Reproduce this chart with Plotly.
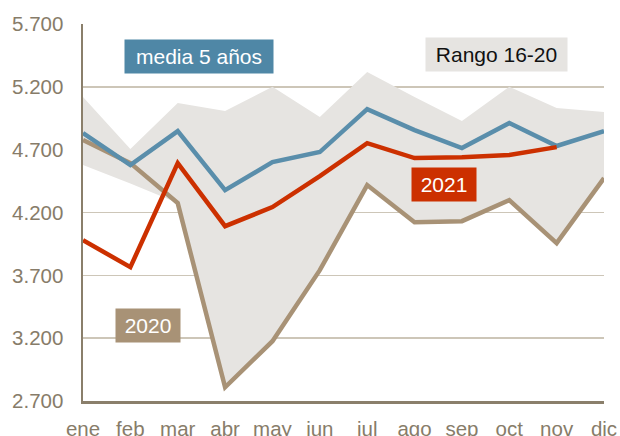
import plotly.graph_objects as go

months = ["ene", "feb", "mar", "abr", "may", "jun", "jul", "ago", "sep", "oct", "nov", "dic"]
media5 = [4832, 4577, 4848, 4378, 4601, 4681, 5023, 4856, 4713, 4912, 4729, 4848]
y2021 = [3980, 3765, 4593, 4091, 4243, 4490, 4752, 4633, 4640, 4657, 4720]
y2020 = [4776, 4593, 4275, 2809, 3176, 3741, 4418, 4123, 4131, 4298, 3956, 4474]
rango_max = [5119, 4705, 5071, 5007, 5200, 4960, 5318, 5119, 4928, 5200, 5031, 5000]
rango_min = [4577, 4430, 4275, 2809, 3176, 3741, 4418, 4123, 4131, 4298, 3956, 4474]
y_ticks = [2700, 3200, 3700, 4200, 4700, 5200, 5700]

idx = list(range(len(months)))

BLUE = "#5a8eab"
RED = "#cc3000"
BROWN = "#a89276"
BAND = "#e6e4e1"
GRID = "#cdc6b8"
AXIS = "#8a7f6b"
TICK = "#877c69"
FONT = "Liberation Sans, Arial, sans-serif"
FS = 20.5

fig = go.Figure()
fig.add_trace(go.Scatter(
    x=idx + idx[::-1], y=rango_max + rango_min[::-1],
    fill="toself", fillcolor=BAND, line=dict(width=0), mode="lines",
    hoverinfo="skip", showlegend=False))
fig.add_trace(go.Scatter(x=idx, y=y2020, mode="lines",
                         line=dict(color=BROWN, width=4.5), showlegend=False))
fig.add_trace(go.Scatter(x=idx, y=media5, mode="lines",
                         line=dict(color=BLUE, width=4.5), showlegend=False))
fig.add_trace(go.Scatter(x=idx[:len(y2021)], y=y2021, mode="lines",
                         line=dict(color=RED, width=4.5), showlegend=False))

def label(text, x, y, w, bg, color):
    fig.add_annotation(x=x, y=y, xref="x", yref="y", text=text, showarrow=False,
                       bgcolor=bg, font=dict(family=FONT, size=21, color=color),
                       width=w, height=25, borderpad=4)

label("media 5 años", 2.45, 5445, 140, "#4f87a6", "white")
label("Rango 16-20", 8.73, 5457, 133, BAND, "#111111")
label("2021", 7.62, 4422, 56, RED, "white")
label("2020", 1.37, 3303, 56, BROWN, "white")

fig.update_layout(
    width=620, height=436,
    margin=dict(l=83, r=16, t=24, b=35),
    paper_bgcolor="white", plot_bgcolor="white",
    font=dict(family=FONT, size=FS, color=TICK),
    hovermode=False,
    xaxis=dict(range=[0, 11], tickmode="array", tickvals=idx, ticktext=months,
               showgrid=False, showline=True, linecolor=AXIS, linewidth=2.5,
               ticks="", ticklabelstandoff=8, zeroline=False, automargin=False,
               tickfont=dict(family=FONT, size=FS, color=TICK)),
    yaxis=dict(range=[2700, 5700], tickmode="array", tickvals=y_ticks,
               ticktext=[f"{v:,}".replace(",", ".") for v in y_ticks],
               showgrid=True, gridcolor=GRID, gridwidth=1.5,
               showline=True, linecolor=AXIS, linewidth=2.5,
               ticks="", ticklabelstandoff=13, zeroline=False, automargin=False,
               tickfont=dict(family=FONT, size=FS, color=TICK)),
)

fig.write_html("out.html", config={"displayModeBar": False, "staticPlot": True},
               post_script="document.body.style.margin='0';document.body.style.overflow='hidden';")
